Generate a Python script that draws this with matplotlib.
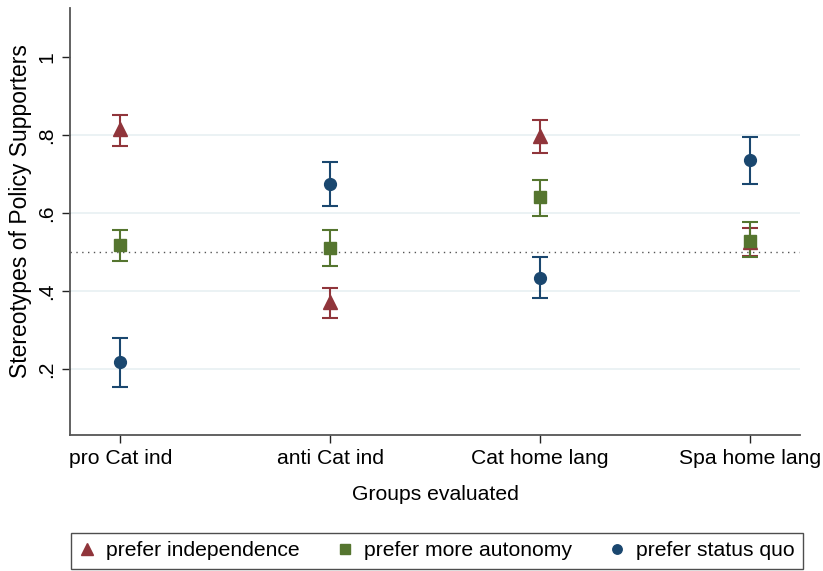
import matplotlib
matplotlib.use("Agg")
import matplotlib.pyplot as plt
from matplotlib.ticker import FixedLocator

plt.rcParams['font.family'] = ['Liberation Sans', 'DejaVu Sans']

groups = ["pro Cat ind", "anti Cat ind", "Cat home lang", "Spa home lang"]
series_names = ["prefer independence", "prefer more autonomy", "prefer status quo"]

indep_mean = [0.815, 0.372, 0.797, 0.525]
indep_lo = [0.772, 0.331, 0.754, 0.488]
indep_hi = [0.851, 0.408, 0.838, 0.562]

auton_mean = [0.518, 0.510, 0.641, 0.528]
auton_lo = [0.477, 0.464, 0.592, 0.487]
auton_hi = [0.556, 0.556, 0.685, 0.577]

quo_mean = [0.218, 0.674, 0.433, 0.736]
quo_lo = [0.154, 0.618, 0.382, 0.674]
quo_hi = [0.279, 0.731, 0.487, 0.795]

colors = ["#90353B", "#55752F", "#1A476F"]
markers = ["^", "s", "o"]
msizes = [10, 9, 8.5]

fig = plt.figure(figsize=(8.23, 5.71), dpi=100)
ax = fig.add_axes([0.085, 0.238, 0.887, 0.748])

x = list(range(1, len(groups) + 1))

for yv in [0.2, 0.4, 0.6, 0.8]:
    ax.axhline(yv, color="#E9F1F3", lw=1.3, zorder=0)
ax.axhline(0.5, color="#555555", lw=1.0, ls=(0, (1, 3.2)), zorder=1)

data = [(indep_mean, indep_lo, indep_hi), (auton_mean, auton_lo, auton_hi), (quo_mean, quo_lo, quo_hi)]
handles = []
for (m, lo, hi), c, mk, ms, name in zip(data, colors, markers, msizes, series_names):
    yerr = [[mi - l for mi, l in zip(m, lo)], [h - mi for mi, h in zip(m, hi)]]
    ax.errorbar(x, m, yerr=yerr, fmt="none", ecolor=c, elinewidth=1.5, capsize=6, capthick=1.5, zorder=2)
    h = ax.plot(x, m, ls="none", marker=mk, ms=ms, color=c, mec=c, zorder=3, label=name)[0]
    handles.append(h)

fs = 15.2
ax.set_xlim(0.76, 4.24)
ax.set_ylim(0.03, 1.125)
ax.set_xticks(x)
ax.set_xticklabels(groups, fontsize=fs)
ax.yaxis.set_major_locator(FixedLocator([0.2, 0.4, 0.6, 0.8, 1.0]))
ax.set_yticklabels([".2", ".4", ".6", ".8", "1"], fontsize=fs, rotation=90, va="center")
ax.tick_params(axis="both", direction="out", length=6, width=1, color="#222222", pad=4)

for s in ["top", "right"]:
    ax.spines[s].set_visible(False)
for s in ["left", "bottom"]:
    ax.spines[s].set_color("#555555")
    ax.spines[s].set_linewidth(1.3)

ax.set_xlabel("Groups evaluated", fontsize=fs, labelpad=12)
ax.set_ylabel("Stereotypes of Policy Supporters", fontsize=16.5)
ax.yaxis.set_label_coords(-0.052, 0.525)

leg = fig.legend(handles=handles, labels=series_names, loc="lower center",
                 bbox_to_anchor=(0.531, 0.004), ncol=3, fontsize=fs, frameon=True,
                 fancybox=False, edgecolor="#222222", handlelength=0.7, handletextpad=0.55,
                 columnspacing=1.8, borderpad=0.4, borderaxespad=0, markerscale=0.8)
leg.get_frame().set_linewidth(1.0)

fig.savefig("out.png", dpi=100, facecolor="white")
